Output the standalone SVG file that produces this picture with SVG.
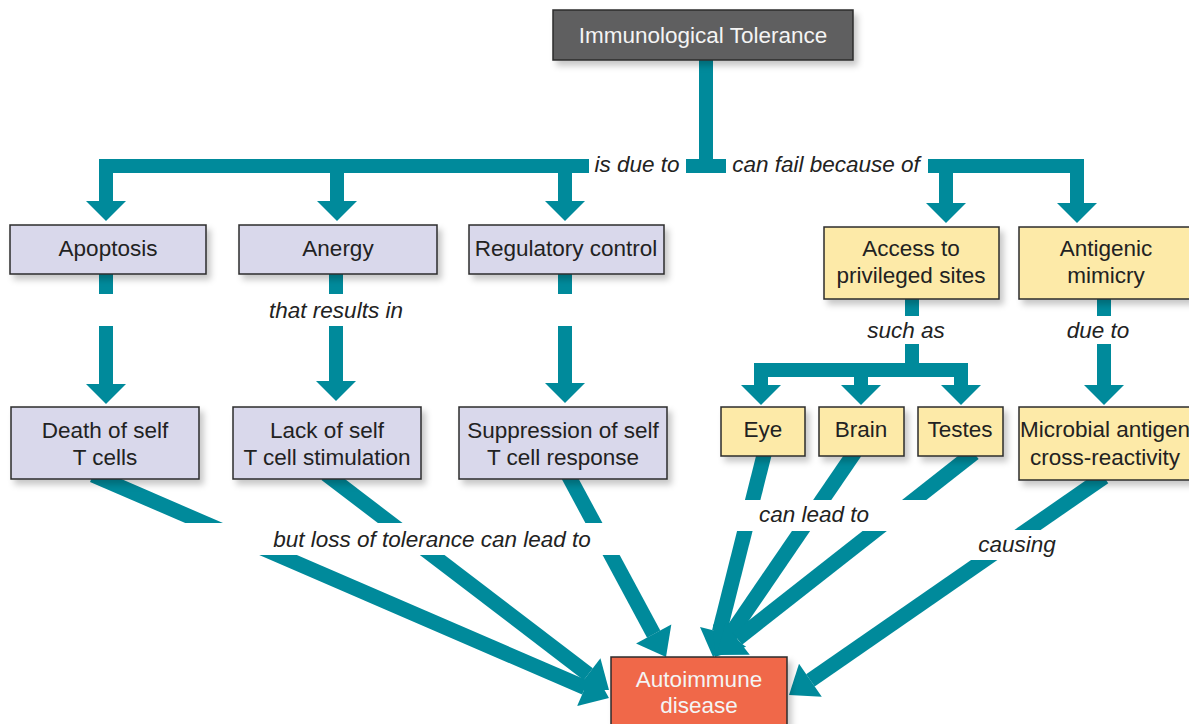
<svg xmlns="http://www.w3.org/2000/svg" width="1189" height="724" viewBox="0 0 1189 724">
<defs>
<style>
.node rect{stroke:#2b2b2b;stroke-width:1.5;filter:url(#sh)}
.lav{fill:#d9d8eb}
.yel{fill:#fdeaa8}
.dark{fill:#5f5f61}
.red{fill:#f0674a}
.t{font-family:"Liberation Sans",Arial,sans-serif;font-size:22.5px;fill:#222;text-anchor:middle}
.w{fill:#f4f4f4}
.lbl{font-family:"Liberation Sans",Arial,sans-serif;font-size:22.5px;font-style:italic;fill:#222;text-anchor:middle}
.c{fill:none;stroke:#008a9b;stroke-width:14;stroke-linejoin:miter;stroke-linecap:butt}
.v{marker-end:url(#ah)}
.d{stroke-width:15;marker-end:url(#ahd)}
.bg{fill:#fff}
</style>
<filter id="sh" x="-10%" y="-10%" width="130%" height="140%">
<feDropShadow dx="4" dy="5" stdDeviation="3" flood-color="#000" flood-opacity="0.22"/>
</filter>
<marker id="ah" markerUnits="userSpaceOnUse" markerWidth="20" markerHeight="40" refX="0" refY="20" orient="auto" overflow="visible">
<path d="M0,0 L20,20 L0,40 Z" fill="#008a9b"/>
</marker>
<marker id="ahd" markerUnits="userSpaceOnUse" markerWidth="26" markerHeight="40" refX="0" refY="20" orient="auto" overflow="visible">
<path d="M0,0 L26,20 L0,40 Z" fill="#008a9b"/>
</marker>
</defs>
<rect width="1189" height="724" fill="#fff"/>

<g id="connectors">
<!-- top stem and bars -->
<path class="c" d="M706,55 V173"/>
<path class="c" d="M686,166 H726"/>
<path class="c v" d="M589,166 H106 V201"/>
<path class="c v" d="M337,166 V201"/>
<path class="c v" d="M565,166 V201"/>
<path class="c v" d="M928,166 H1077 V203"/>
<path class="c v" d="M946,166 V203"/>
<!-- row 1 to row 2 -->
<path class="c v" d="M106,270 V294 M106,326 V384"/>
<path class="c v" d="M336,270 V294 M336,326 V381"/>
<path class="c v" d="M565,270 V294 M565,326 V383"/>
<path class="c" d="M912,295 V316 M912,344 V370"/>
<path class="c" d="M761,385 V370 H961 V385"/>
<path class="c v" d="M761,370 V385"/>
<path class="c v" d="M861,370 V385"/>
<path class="c v" d="M961,370 V385"/>
<path class="c v" d="M1104,295 V316 M1104,344 V385"/>
<!-- diagonals to autoimmune -->
<path class="c d" d="M93,475 L585.1,687.7"/>
<path class="c d" d="M326,474 L588.3,674.2"/>
<path class="c d" d="M567,473 L653.7,634.1"/>
<path class="c d" d="M765,451 L719.4,631.8"/>
<path class="c d" d="M855,452 L729.6,635.5"/>
<path class="c d" d="M974,453 L737.4,638.9"/>
<path class="c d" d="M1104,477 L810.4,680.3"/>
<!-- label gaps -->
<rect class="bg" x="150" y="523" width="470" height="32"/>
<rect class="bg" x="690" y="500" width="260" height="31"/>
<rect class="bg" x="960" y="530" width="110" height="30"/>
<!-- labels -->
<text class="lbl" x="637" y="172">is due to</text>
<text class="lbl" x="826" y="172">can fail because of</text>
<text class="lbl" x="336" y="318">that results in</text>
<text class="lbl" x="906" y="338">such as</text>
<text class="lbl" x="1098" y="338">due to</text>
<text class="lbl" x="432" y="547">but loss of tolerance can lead to</text>
<text class="lbl" x="814" y="522">can lead to</text>
<text class="lbl" x="1017" y="552">causing</text>
</g>

<g id="n-tolerance" class="node"><rect class="dark" x="553" y="10" width="300" height="50"/><text class="t w" x="703" y="43">Immunological Tolerance</text></g>
<g id="n-apoptosis" class="node"><rect class="lav" x="10" y="225" width="196" height="49"/><text class="t" x="108" y="256">Apoptosis</text></g>
<g id="n-anergy" class="node"><rect class="lav" x="239" y="225" width="198" height="49"/><text class="t" x="338" y="256">Anergy</text></g>
<g id="n-regulatory" class="node"><rect class="lav" x="469" y="225" width="195" height="49"/><text class="t" x="566" y="256">Regulatory control</text></g>
<g id="n-death" class="node"><rect class="lav" x="11" y="407" width="188" height="72"/><text class="t" x="105" y="438">Death of self</text><text class="t" x="105" y="465">T cells</text></g>
<g id="n-lack" class="node"><rect class="lav" x="233" y="407" width="188" height="72"/><text class="t" x="327" y="438">Lack of self</text><text class="t" x="327" y="465">T cell stimulation</text></g>
<g id="n-suppression" class="node"><rect class="lav" x="459" y="407" width="208" height="72"/><text class="t" x="563" y="438">Suppression of self</text><text class="t" x="563" y="465">T cell response</text></g>
<g id="n-access" class="node"><rect class="yel" x="824" y="227" width="175" height="72"/><text class="t" x="911" y="256">Access to</text><text class="t" x="911" y="283">privileged sites</text></g>
<g id="n-antigenic" class="node"><rect class="yel" x="1019" y="227" width="175" height="72"/><text class="t" x="1106" y="256">Antigenic</text><text class="t" x="1106" y="283">mimicry</text></g>
<g id="n-eye" class="node"><rect class="yel" x="721" y="407" width="84" height="49"/><text class="t" x="763" y="437">Eye</text></g>
<g id="n-brain" class="node"><rect class="yel" x="819" y="407" width="85" height="49"/><text class="t" x="861" y="437">Brain</text></g>
<g id="n-testes" class="node"><rect class="yel" x="918" y="407" width="85" height="49"/><text class="t" x="960" y="437">Testes</text></g>
<g id="n-microbial" class="node"><rect class="yel" x="1019" y="407" width="175" height="73"/><text class="t" x="1105" y="437">Microbial antigen</text><text class="t" x="1105" y="465">cross-reactivity</text></g>
<g id="n-autoimmune" class="node"><rect class="red" x="611" y="657" width="176" height="80"/><text class="t w" x="699" y="687">Autoimmune</text><text class="t w" x="699" y="713">disease</text></g>
</svg>
